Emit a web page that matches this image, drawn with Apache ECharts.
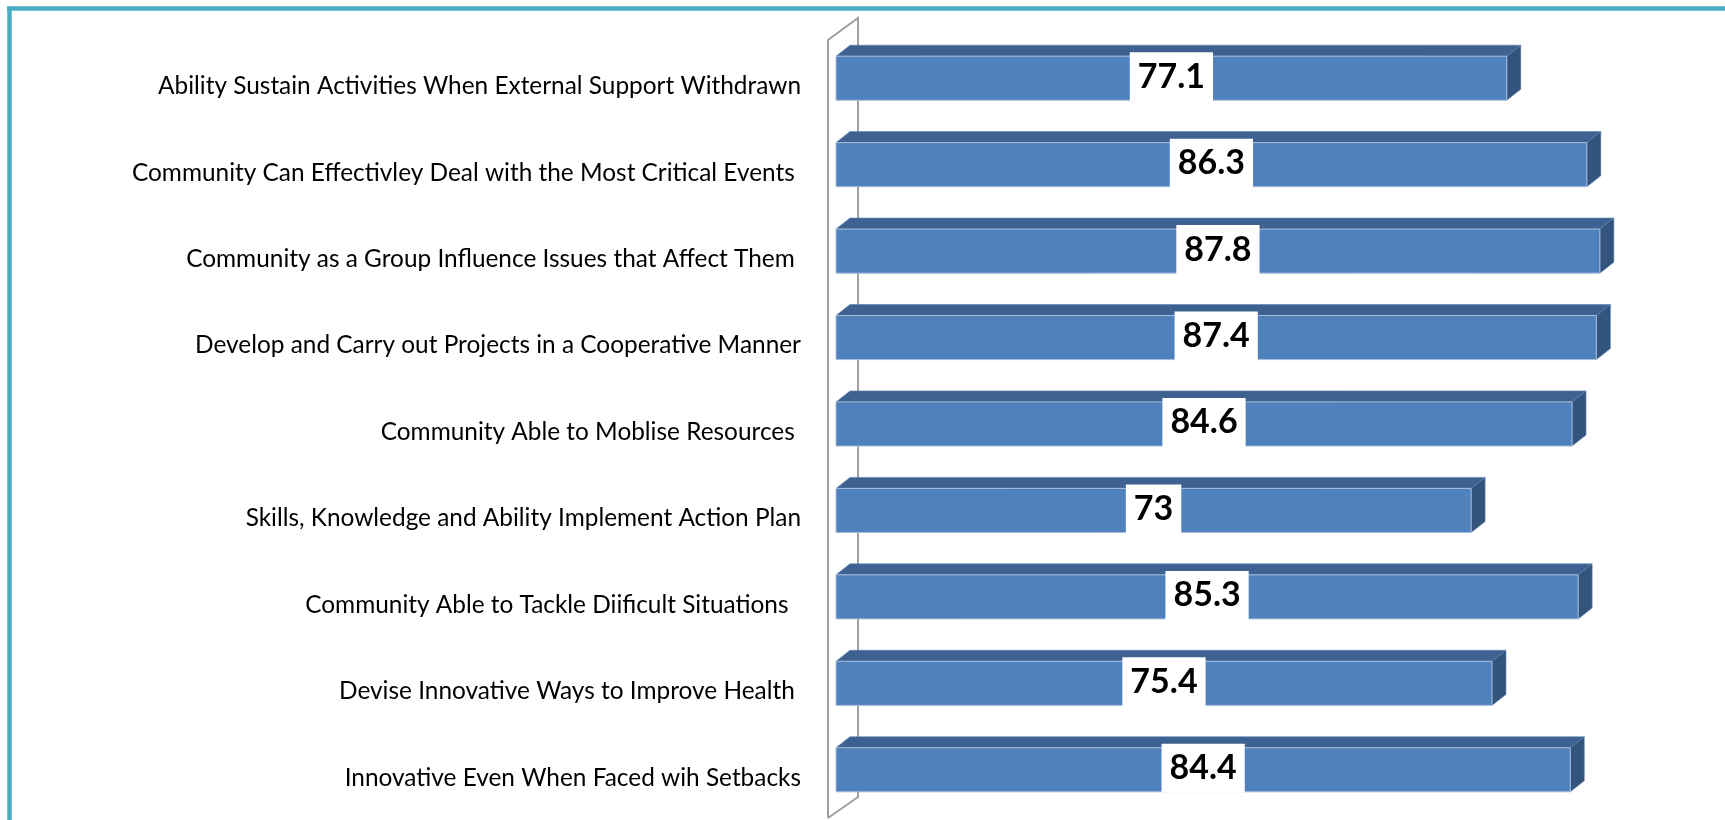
<!DOCTYPE html>
<html>
<head>
<meta charset="utf-8">
<title>Community capacity</title>
<script src="https://cdn.jsdelivr.net/npm/echarts@6/dist/echarts.min.js"></script>
<style>
	html, body { margin: 0; padding: 0; background: #fff; }
	#main { width: 1725px; height: 820px; }
</style>
</head>
<body>
<div id="main"></div>
<script>
// 类别 (top to bottom)
var categories = [
	'Ability Sustain Activities When External Support Withdrawn',
	'Community Can Effectivley Deal with the Most Critical Events ',
	'Community as a Group Influence Issues that Affect Them ',
	'Develop and Carry out Projects in a Cooperative Manner',
	'Community Able to Moblise Resources ',
	'Skills, Knowledge and Ability Implement Action Plan',
	'Community Able to Tackle Diificult Situations  ',
	'Devise Innovative Ways to Improve Health ',
	'Innovative Even When Faced wih Setbacks'
];
var values = [77.1, 86.3, 87.8, 87.4, 84.6, 73, 85.3, 75.4, 84.4];

var frontColor = '#4f81bd';
var topColor = '#3d6291';
var sideColor = '#33547d';
var depthX = 14, depthY = 11;

function renderBar3d(params, api) {
	var cat = api.value(0);
	var val = api.value(1);
	var start = api.coord([0, cat]);
	var end = api.coord([val, cat]);
	var band = api.size([0, 1])[1];
	var h = band * 0.51;
	var x0 = start[0], x1 = end[0];
	var yTop = end[1] - h / 2, yBot = end[1] + h / 2;
	return {
		type: 'group',
		children: [
			{
				type: 'polygon',
				shape: { points: [[x0, yTop], [x0 + depthX, yTop - depthY], [x1 + depthX, yTop - depthY], [x1, yTop]] },
				style: { fill: topColor, stroke: '#5b7fae', lineWidth: 0.6 }
			},
			{
				type: 'polygon',
				shape: { points: [[x1, yTop], [x1 + depthX, yTop - depthY], [x1 + depthX, yBot - depthY], [x1, yBot]] },
				style: { fill: sideColor, stroke: '#5b7fae', lineWidth: 0.6 }
			},
			{
				type: 'rect',
				shape: { x: x0, y: yTop, width: x1 - x0, height: h },
				style: { fill: frontColor, stroke: '#a9bdd9', lineWidth: 1 }
			},
			{
				type: 'text',
				x: (x0 + x1) / 2,
				y: end[1] - 1.5,
				style: {
					text: String(values[params.dataIndex]),
					font: 'bold 34px Lato',
					fill: '#000',
					align: 'center',
					verticalAlign: 'middle',
					lineHeight: 36,
					backgroundColor: '#fff',
					padding: [6, 8, 7, 8]
				}
			}
		]
	};
}

var chartData = [];
for (var i = 0; i < values.length; i++) {
	chartData.push([i, values[i]]);
}

var myChart = echarts.init(document.getElementById('main'));
var option = {
	animation: false,
	grid: { left: 836, right: 19, top: 35, bottom: 7, containLabel: false },
	xAxis: { type: 'value', min: 0, max: 100, show: false },
	yAxis: {
		type: 'category',
		data: categories,
		inverse: true,
		axisLine: { show: false },
		axisTick: { show: false },
		splitLine: { show: false },
		axisLabel: {
			margin: 35,
			formatter: function (v) { return '{c|' + v + '}'; },
			rich: {
				c: {
					color: '#000',
					fontFamily: 'Lato',
					fontSize: 24.4,
					padding: [16, 0, 0, 0]
				}
			}
		}
	},
	series: [{
		type: 'custom',
		z: 2,
		renderItem: renderBar3d,
		encode: { x: 1, y: 0 },
		data: chartData
	}]
};
myChart.setOption(option);

// 左侧的3D墙和外框
var p0 = myChart.convertToPixel({ gridIndex: 0 }, [0, 0]);
var gx = p0[0];
var gTop = 35, gBot = 820 - 7;
var wallFront = gx - 8, wallBack = gx + 22;
myChart.setOption({
	graphic: [
		{
			type: 'polyline', z: 0,
			shape: { points: [[wallFront, gBot + 5], [wallFront, gTop + 5], [wallBack, gTop - 17], [wallBack, gBot - 16], [wallFront, gBot + 5]] },
			style: { stroke: '#a0a0a0', lineWidth: 2, fill: null }
		},
		{
			type: 'line', z: 0,
			shape: { x1: 7, y1: 8.5, x2: 1725, y2: 8.5 },
			style: { stroke: '#4bacc6', lineWidth: 4.5 }
		},
		{
			type: 'line', z: 0,
			shape: { x1: 9.5, y1: 6.5, x2: 9.5, y2: 820 },
			style: { stroke: '#4bacc6', lineWidth: 4.5 }
		}
	]
});
</script>
</body>
</html>
